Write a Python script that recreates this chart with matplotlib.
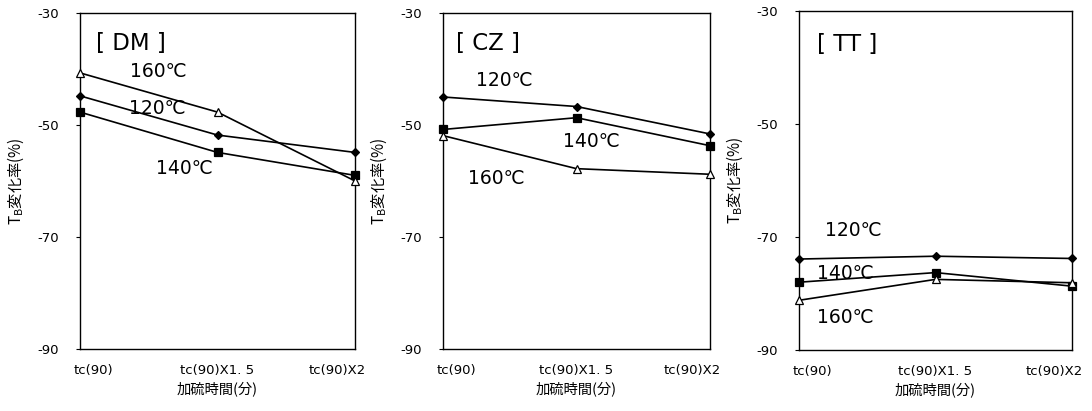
import matplotlib
matplotlib.use('Agg')
import matplotlib.pyplot as plt

plt.rcParams['font.family'] = ['Noto Sans CJK JP', 'DejaVu Sans']

x_labels = ['tc(90)', 'tc(90)X1. 5', 'tc(90)X2']
x_pos = [0, 1, 2]
temps = ['120℃', '140℃', '160℃']

# T_B変化率(%) per panel, order: 120, 140, 160
dm_120 = [-44.8, -51.8, -54.9]
dm_140 = [-47.7, -54.9, -59.0]
dm_160 = [-40.7, -47.7, -60.0]

cz_120 = [-45.0, -46.7, -51.6]
cz_140 = [-50.8, -48.7, -53.7]
cz_160 = [-51.9, -57.8, -58.8]

tt_120 = [-73.9, -73.4, -73.8]
tt_140 = [-78.0, -76.3, -78.7]
tt_160 = [-81.2, -77.5, -78.1]

panels = [
    ('[ DM ]', [dm_120, dm_140, dm_160], [0.0733, 0.1509, 0.2518, 0.8175],
     (0.37, -35.4), [(0.56, -47.0), (0.76, -57.7), (0.57, -40.5)]),
    ('[ CZ ]', [cz_120, cz_140, cz_160], [0.4057, 0.1509, 0.2445, 0.8175],
     (0.34, -35.4), [(0.46, -42.1), (1.11, -53.0), (0.40, -59.5)]),
    ('[ TT ]', [tt_120, tt_140, tt_160], [0.7317, 0.1484, 0.2500, 0.8248],
     (0.35, -36.0), [(0.40, -68.9), (0.34, -76.5), (0.34, -84.2)]),
]

styles = [
    dict(marker='D', markersize=4, markerfacecolor='black'),
    dict(marker='s', markersize=5.5, markerfacecolor='black'),
    dict(marker='^', markersize=5.5, markerfacecolor='white'),
]

fig = plt.figure(figsize=(10.92, 4.11), dpi=100)

for title, series, rect, title_pos, label_pos in panels:
    ax = fig.add_axes(rect)
    for vals, st in zip(series, styles):
        ax.plot(x_pos, vals, color='black', linewidth=1.2,
                markeredgecolor='black', markeredgewidth=0.9, clip_on=False,
                zorder=3, **st)
    for t, (tx, ty) in zip(temps, label_pos):
        ax.text(tx, ty, t, fontsize=13.5, ha='center', va='center',
                family=['DejaVu Sans'])
    ax.text(title_pos[0], title_pos[1], title, fontsize=16.5, ha='center',
            va='center', family=['DejaVu Sans'])

    ax.set_xlim(0, 2)
    ax.set_ylim(-90, -30)
    ax.set_yticks([-30, -50, -70, -90])
    ax.set_yticklabels(['-30', '-50', '-70', '-90'], fontsize=9.5,
                       family=['DejaVu Sans'])
    ax.tick_params(axis='y', direction='out', length=3, pad=12)
    ax.set_xticks([0.1, 1, 1.87])
    ax.set_xticklabels(x_labels, fontsize=9.5, family=['DejaVu Sans'])
    ax.tick_params(axis='x', length=0, pad=11)
    ax.set_xlabel('加硫時間(分)', fontsize=10.3, labelpad=3)
    ax.set_ylabel('$\\mathregular{T_B}$変化率(%)', fontsize=11, labelpad=8)
    for s in ax.spines.values():
        s.set_linewidth(1.0)

fig.savefig('out.png', dpi=100)
